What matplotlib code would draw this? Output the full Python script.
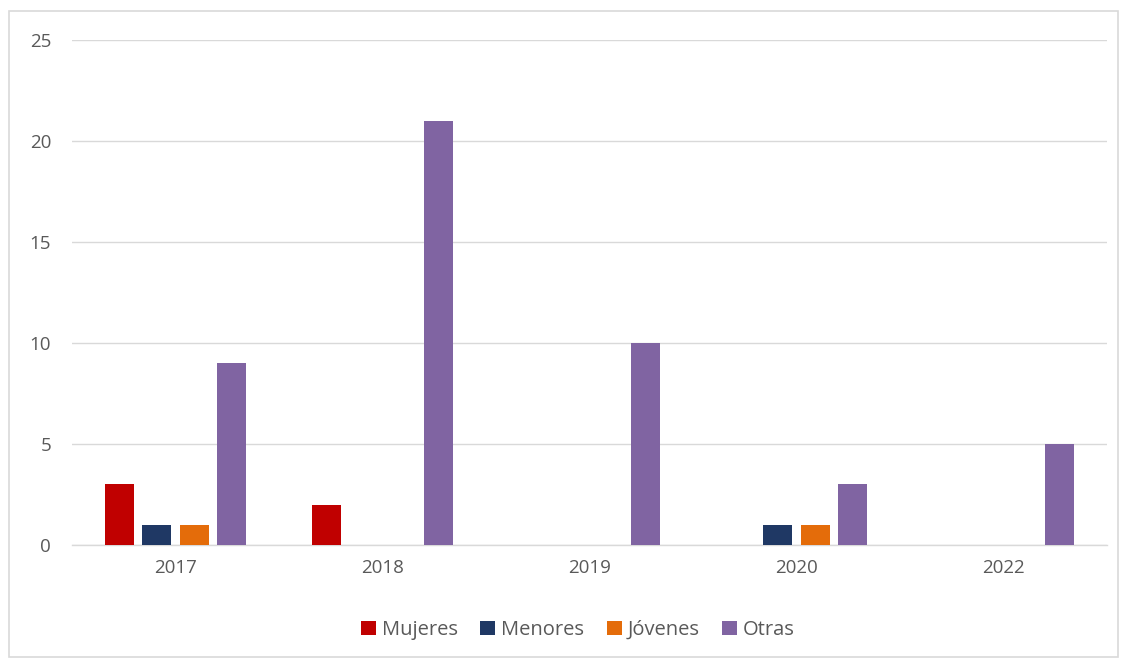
import matplotlib
matplotlib.use("Agg")
import matplotlib.pyplot as plt
import numpy as np
from matplotlib.patches import Rectangle

years = ["2017", "2018", "2019", "2020", "2022"]
mujeres = [3, 2, 0, 0, 0]
menores = [1, 0, 0, 1, 0]
jovenes = [1, 0, 0, 1, 0]
otras = [9, 21, 10, 3, 5]
series_names = ["Mujeres", "Menores", "Jóvenes", "Otras"]
colors = ["#C00000", "#1F3864", "#E46C0A", "#8064A2"]

plt.rcParams['font.family'] = ['Open Sans', 'DejaVu Sans']
fig = plt.figure(figsize=(11.22, 6.61), dpi=100)
ax = fig.add_axes([72/1122, 1-545/661, (1107-72)/1122, (545-40)/661])

x = np.arange(len(years))
w = 0.14
step = 0.181
offsets = [-1.5*step, -0.5*step, 0.5*step, 1.5*step]
handles = []
for vals, name, c, off in zip([mujeres, menores, jovenes, otras], series_names, colors, offsets):
    h = ax.bar(x + off, vals, width=w, color=c, label=name, zorder=3)
    handles.append(h)

ax.set_xlim(-0.5, len(years)-0.5)
ax.set_ylim(0, 25)
ax.set_yticks([0, 5, 10, 15, 20, 25])
ax.set_xticks(x)
ax.set_xticklabels(years)
ax.grid(axis='y', color='#D9D9D9', linewidth=1, zorder=0)
for s in ['top', 'right', 'left']:
    ax.spines[s].set_visible(False)
ax.spines['bottom'].set_color('#D9D9D9')
ax.spines['bottom'].set_linewidth(1)
ax.tick_params(axis='both', length=0, colors='#595959', labelsize=13.5)
ax.tick_params(axis='y', pad=15)
ax.tick_params(axis='x', pad=10)

fig.legend(handles=handles, labels=series_names, loc='center', bbox_to_anchor=(578/1122, 1-630/661),
           ncol=4, frameon=False, fontsize=14.5, labelcolor='#595959',
           handlelength=0.75, handleheight=0.75, handletextpad=0.3, columnspacing=1.1)

fig.patches.append(Rectangle((9/1122, 4/661), (1118-9)/1122, (650-4)/661, transform=fig.transFigure,
                             fill=False, edgecolor='#D9D9D9', linewidth=1.2))
fig.savefig("out.png", dpi=100)
